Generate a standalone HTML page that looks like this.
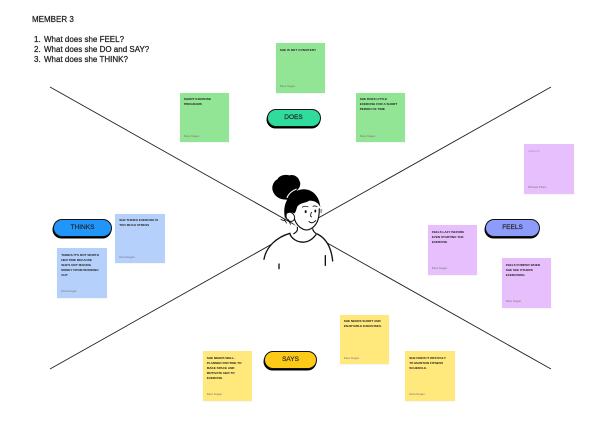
<!DOCTYPE html>
<html><head><meta charset="utf-8">
<style>
html,body{margin:0;padding:0;background:#fff}
#p{position:relative;width:600px;height:427px;overflow:hidden;background:#fff;font-family:"Liberation Sans",sans-serif}
.s{position:absolute;width:49.5px;height:49.5px;box-shadow:0 .5px 1px rgba(0,0,0,.08)}
.s b{position:absolute;left:4.2px;top:4.5px;white-space:nowrap;font-size:3.1px;line-height:5px;color:#1c1c1c;font-weight:bold}
.s i{position:absolute;left:4.2px;bottom:4.5px;font-size:2.9px;line-height:3px;color:#777;font-style:normal;white-space:nowrap}
.g{background:#93e596}.b{background:#b5d0fb}.v{background:#e7bffc}.y{background:#ffe97c}
.pill{position:absolute;box-sizing:border-box;height:18px;border:1px solid #111;border-radius:9px;box-shadow:-.5px 1.5px 0 #000;text-align:center;font-size:6.5px;line-height:16px;color:#222;-webkit-text-stroke:.15px #222}
.tx{position:absolute;font-size:8px;line-height:10px;color:#222;white-space:nowrap;-webkit-text-stroke:.25px #222}
svg{position:absolute;left:0;top:0}
</style></head><body><div id="p">
<svg width="600" height="427" viewBox="0 0 600 427">
<line x1="50" y1="87" x2="551" y2="369" stroke="#222" stroke-width=".9"/>
<line x1="50" y1="369" x2="551" y2="87" stroke="#222" stroke-width=".9"/>
<g transform="translate(240 160) scale(.3333)">
<path d="M70 300C75 265 105 230 150 220C160 212 170 205 175 190L225 195C225 208 225 215 232 222C262 235 275 265 280 305L282 330L100 330Z" fill="#fff"/>
<path d="M72 298C78 262 108 232 150 220M232 222C258 235 274 262 278 303M150 222C158 245 200 262 228 224M117 312V326M256 287V316" fill="none" stroke="#111" stroke-width="4" stroke-linecap="round"/>
<path d="M172 200C174 212 170 216 160 222M218 205C218 212 222 216 230 222" fill="none" stroke="#111" stroke-width="3.5"/>
<path d="M150 165C152 130 180 110 210 115C235 120 242 150 236 178C230 205 205 218 185 208C165 198 150 185 150 165Z" fill="#fff"/>
<path d="M145 118C125 122 104 112 98 92C94 78 102 62 112 58C118 46 135 42 148 46C160 42 175 50 178 62C184 70 180 84 172 90C165 102 155 112 145 118Z" fill="#000"/>
<path d="M136 178C126 140 140 106 172 92C205 78 238 100 241 142C236 130 226 122 208 122C196 130 180 128 172 140C168 150 168 158 162 160C150 152 138 162 136 178Z" fill="#000"/>
<path d="M141 114C145 102 156 92 170 87" fill="none" stroke="#fff" stroke-width="3.5"/>
<path d="M140 160C150 152 162 160 164 172C164 184 152 188 143 180C138 174 137 166 140 160Z" fill="#fff" stroke="#111" stroke-width="3"/>
<path d="M132 176L140 190M122 178L134 183M145 178L152 194" stroke="#111" stroke-width="2.5"/>
<path d="M163 176C168 192 176 202 190 208C205 214 222 205 232 185C236 175 238 160 238 145" fill="none" stroke="#111" stroke-width="3.5"/>
<ellipse cx="197" cy="155" rx="3" ry="4.5" fill="#111"/>
<ellipse cx="226" cy="153" rx="2.8" ry="4.5" fill="#111"/>
<path d="M186 142Q195 136 205 141M218 139Q224 136 232 140" fill="none" stroke="#111" stroke-width="2.5"/>
<path d="M215 156Q208 170 216 171" fill="none" stroke="#111" stroke-width="2.5"/>
<path d="M206 184Q216 194 228 181" fill="none" stroke="#111" stroke-width="3"/>
<path d="M241 150H247M241 156H246" stroke="#111" stroke-width="2"/>
</g>
</svg>
<div class="tx" style="left:32px;top:15px">MEMBER 3</div>
<div class="tx" style="left:34px;top:35px">1.</div><div class="tx" style="left:44px;top:35px">What does she FEEL?</div>
<div class="tx" style="left:34px;top:45px">2.</div><div class="tx" style="left:44px;top:45px">What does she DO and SAY?</div>
<div class="tx" style="left:34px;top:55px">3.</div><div class="tx" style="left:44px;top:55px">What does she THINK?</div>

<div class="s g" style="left:275.5px;top:43px"><b>SHE IS NOT CONSITENT</b><i>Dara Nugan</i></div>
<div class="s g" style="left:179.5px;top:92.5px"><b>SHORT EXERCISE<br>PROGRAMS</b><i>Dara Nugan</i></div>
<div class="s g" style="left:355.5px;top:92.5px"><b>SHE DOES LITTLE<br>EXERCISE FOR A SHORT<br>PERIOD OF TIME</b><i>Dara Nugan</i></div>
<div class="pill" style="left:266.5px;top:108.5px;width:54px;background:#2fdc9b">DOES</div>

<div class="s b" style="left:115px;top:213.5px"><b>SHE THINKS EXERCISE IS<br>TOO MUCH STRESS</b><i>Dara Nugan</i></div>
<div class="s b" style="left:57px;top:248px"><b>THINKS IT'S NOT WORTH<br>HER TIME BECAUSE<br>SHE'S NOT MAKING<br>MONEY FROM WORKING<br>OUT</b><i>Dara Nugan</i></div>
<div class="pill" style="left:53px;top:219px;width:59px;background:#2196fa">THINKS</div>

<div class="s v" style="left:524px;top:144px"><b style="font-weight:normal;color:#a58bb5">Add text</b><i>Richard Pharo</i></div>
<div class="s v" style="left:427.5px;top:225px"><b>FEELS LAZY BEFORE<br>EVEN STARTING THE<br>EXERCISE</b><i>Dara Nugan</i></div>
<div class="s v" style="left:501.5px;top:258px"><b>FEELS PUMPED WHEN<br>SHE SEE OTHERS<br>EXERCISING</b><i>Dara Nugan</i></div>
<div class="pill" style="left:485px;top:219px;width:55px;background:#8d9bfb">FEELS</div>

<div class="s y" style="left:202.5px;top:351px"><b>SHE NEEDS WELL-<br>PLANNED ROUTINE TO<br>MAKE SPACE AND<br>MOTIVATE HER TO<br>EXERCISE</b><i>Dara Nugan</i></div>
<div class="s y" style="left:339.5px;top:314.5px"><b>SHE NEEDS SHORT AND<br>ENJOYABLE EXERCISES.</b><i>Dara Nugan</i></div>
<div class="s y" style="left:405px;top:351px"><b>SHE FINDS IT DIFFICULT<br>TO MAINTAIN FITNESS<br>SCHEDULE.</b><i>Dara Nugan</i></div>
<div class="pill" style="left:264px;top:351px;width:53px;background:#fdca18">SAYS</div>
</div></body></html>
